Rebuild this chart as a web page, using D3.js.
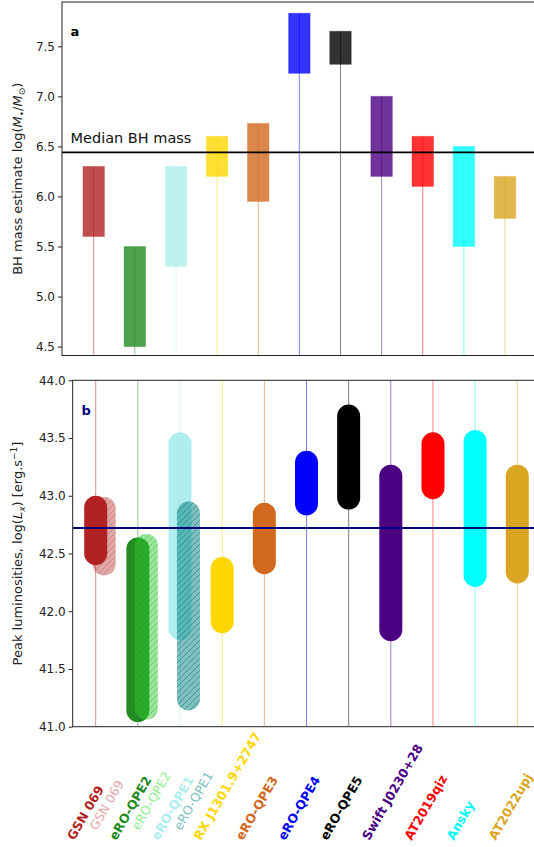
<!DOCTYPE html>
<html>
<head>
<meta charset="utf-8">
<script src="https://cdn.jsdelivr.net/npm/d3@7"></script>
<style>
  html, body { margin: 0; padding: 0; background: #fff; }
  svg { display: block; font-family: "DejaVu Sans", sans-serif; }
</style>
</head>
<body>
<svg id="chart" width="534" height="847"></svg>
<script>
// Sources, in plotting order
const sources = ["GSN 069", "eRO-QPE2", "eRO-QPE1", "RX J1301.9+2747", "eRO-QPE3",
  "eRO-QPE4", "eRO-QPE5", "Swift J0230+28", "AT2019qiz", "Ansky", "AT2022upj"];
const sourceColors = ["firebrick", "forestgreen", "paleturquoise", "gold", "chocolate",
  "blue", "black", "indigo", "red", "cyan", "goldenrod"];

// Panel a: BH mass range, log(M/Msun)
const massLow  = [5.6, 4.5, 5.3, 6.2, 5.95, 7.23, 7.32, 6.2, 6.1, 5.5, 5.78];
const massHigh = [6.3, 5.5, 6.3, 6.6, 6.73, 7.83, 7.65, 7.0, 6.6, 6.5, 6.2];
const medianMass = 6.44;
const massTicks = [4.5, 5.0, 5.5, 6.0, 6.5, 7.0, 7.5];

// Panel b: peak X-ray luminosity range, log(Lx)
const lxLow  = [42.5, 41.14, 41.85, 41.91, 42.42, 42.93, 42.98, 41.84, 43.07, 42.31, 42.34];
const lxHigh = [42.9, 42.54, 43.45, 42.37, 42.84, 43.29, 43.69, 43.17, 43.45, 43.47, 43.17];
const medianLx = 42.72;
const lxTicks = [41.0, 41.5, 42.0, 42.5, 43.0, 43.5, 44.0];

// Second (hatched) estimates for the first three sources
const altSources = ["GSN 069", "eRO-QPE2", "eRO-QPE1"];
const altIndex = [0, 1, 2];
const altLow  = [42.41, 41.16, 41.24];
const altHigh = [42.89, 42.57, 42.85];
const altFill  = ["rgba(178,34,34,0.4)", "rgba(50,205,50,0.5)", "rgba(0,128,128,0.5)"];
const altHatch = ["rgba(178,34,34,0.28)", "rgba(34,139,34,0.3)", "rgba(0,100,100,0.45)"];
const altLabel = ["#e3a6a6", "#90ee90", "#80bfbf"];

const svg = d3.select("#chart");
const defs = svg.append("defs");

// ---------- Panel a ----------
const A = { left: 62, right: 545, top: 2, bottom: 355.5 };
const xa = d3.scaleLinear().domain([0, 10]).range([93.7, 505]);
const ya = d3.scaleLinear().domain([4.5, 7.5]).range([346.6, 46.3]);

const ga = svg.append("g");
ga.append("clipPath").attr("id", "clipA").append("rect")
  .attr("x", A.left).attr("y", A.top).attr("width", A.right - A.left).attr("height", A.bottom - A.top);

const plotA = ga.append("g").attr("clip-path", "url(#clipA)");
sources.forEach((s, i) => {
  plotA.append("line")
    .attr("x1", xa(i)).attr("x2", xa(i))
    .attr("y1", A.bottom).attr("y2", ya(massHigh[i]))
    .attr("stroke", sourceColors[i]).attr("stroke-opacity", 0.5).attr("stroke-width", 1);
  plotA.append("rect")
    .attr("x", xa(i) - 10.75).attr("width", 21.5)
    .attr("y", ya(massHigh[i])).attr("height", ya(massLow[i]) - ya(massHigh[i]))
    .attr("fill", sourceColors[i]).attr("fill-opacity", 0.8)
    .attr("stroke", sourceColors[i]).attr("stroke-opacity", 0.3).attr("stroke-width", 1);
});
plotA.append("line")
  .attr("x1", A.left).attr("x2", A.right)
  .attr("y1", ya(medianMass)).attr("y2", ya(medianMass))
  .attr("stroke", "black").attr("stroke-width", 1.6);
ga.append("text").attr("x", 70.5).attr("y", 143.3)
  .attr("font-size", 14.5).attr("fill", "#111").text("Median BH mass");
ga.append("text").attr("x", 70.5).attr("y", 36)
  .attr("font-size", 13).attr("font-weight", "bold").attr("fill", "#000").text("a");

const axA = ga.append("g").attr("transform", `translate(${A.left},0)`)
  .call(d3.axisLeft(ya).tickValues(massTicks).tickFormat(d3.format(".1f")).tickSize(4).tickPadding(3));
axA.select(".domain").remove();
axA.selectAll("text").attr("font-size", 12).attr("fill", "#222").attr("font-family", "DejaVu Sans");
axA.selectAll("line").attr("stroke", "#222");

ga.append("rect").attr("x", A.left).attr("y", A.top)
  .attr("width", A.right - A.left).attr("height", A.bottom - A.top)
  .attr("fill", "none").attr("stroke", "#222").attr("stroke-width", 1);

const labA = ga.append("text")
  .attr("transform", `translate(22,${(A.top + A.bottom) / 2}) rotate(-90)`)
  .attr("text-anchor", "middle").attr("font-size", 13).attr("fill", "#222");
labA.append("tspan").text("BH mass estimate log(");
labA.append("tspan").attr("font-style", "italic").text("M");
labA.append("tspan").attr("font-size", 9).attr("dy", 3).text("•");
labA.append("tspan").attr("dy", -3).text("/");
labA.append("tspan").attr("font-style", "italic").text("M");
labA.append("tspan").attr("font-size", 9).attr("dy", 3).text("⊙");
labA.append("tspan").attr("dy", -3).text(")");

// ---------- Panel b ----------
const B = { left: 72.7, right: 545, top: 380.3, bottom: 726.7 };
const xb = d3.scaleLinear().domain([0, 10]).range([95.7, 517.3]);
const yb = d3.scaleLinear().domain([41, 44]).range([B.bottom, B.top]);
const altShift = 0.2;
const barWidth = 23;

const gb = svg.append("g");
gb.append("clipPath").attr("id", "clipB").append("rect")
  .attr("x", B.left).attr("y", B.top).attr("width", B.right - B.left).attr("height", B.bottom - B.top);
const plotB = gb.append("g").attr("clip-path", "url(#clipB)");

sources.forEach((s, i) => {
  plotB.append("line")
    .attr("x1", xb(i)).attr("x2", xb(i)).attr("y1", B.top).attr("y2", B.bottom)
    .attr("stroke", sourceColors[i]).attr("stroke-opacity", 0.5).attr("stroke-width", 1);
});

// hatch patterns for the alternative estimates
altSources.forEach((s, k) => {
  const p = defs.append("pattern").attr("id", "hatch" + k)
    .attr("patternUnits", "userSpaceOnUse").attr("width", 6).attr("height", 6);
  p.append("path").attr("d", "M-1,1 l2,-2 M0,6 l6,-6 M5,7 l2,-2")
    .attr("stroke", altHatch[k]).attr("stroke-width", 1);
});

sources.forEach((s, i) => {
  plotB.append("line")
    .attr("x1", xb(i)).attr("x2", xb(i))
    .attr("y1", yb(lxLow[i])).attr("y2", yb(lxHigh[i]))
    .attr("stroke", sourceColors[i]).attr("stroke-width", barWidth).attr("stroke-linecap", "round");
  const k = altIndex.indexOf(i);
  if (k >= 0) {
    const xx = xb(i + altShift);
    plotB.append("line")
      .attr("x1", xx).attr("x2", xx).attr("y1", yb(altLow[k])).attr("y2", yb(altHigh[k]))
      .attr("stroke", altFill[k]).attr("stroke-width", barWidth).attr("stroke-linecap", "round");
    plotB.append("line")
      .attr("x1", xx).attr("x2", xx).attr("y1", yb(altLow[k])).attr("y2", yb(altHigh[k]))
      .attr("stroke", `url(#hatch${k})`).attr("stroke-width", barWidth).attr("stroke-linecap", "round");
  }
});

plotB.append("line")
  .attr("x1", B.left).attr("x2", B.right)
  .attr("y1", yb(medianLx)).attr("y2", yb(medianLx))
  .attr("stroke", "navy").attr("stroke-width", 2);

gb.append("text").attr("x", 81.5).attr("y", 415)
  .attr("font-size", 13).attr("font-weight", "bold").attr("fill", "navy").text("b");

const axB = gb.append("g").attr("transform", `translate(${B.left},0)`)
  .call(d3.axisLeft(yb).tickValues(lxTicks).tickFormat(d3.format(".1f")).tickSize(4).tickPadding(3));
axB.select(".domain").remove();
axB.selectAll("text").attr("font-size", 12).attr("fill", "#222").attr("font-family", "DejaVu Sans");
axB.selectAll("line").attr("stroke", "#222");

gb.append("rect").attr("x", B.left).attr("y", B.top)
  .attr("width", B.right - B.left).attr("height", B.bottom - B.top)
  .attr("fill", "none").attr("stroke", "#222").attr("stroke-width", 1);

const labB = gb.append("text")
  .attr("transform", `translate(22,${(B.top + B.bottom) / 2}) rotate(-90)`)
  .attr("text-anchor", "middle").attr("font-size", 13).attr("fill", "#222");
labB.append("tspan").text("Peak luminosities, log(");
labB.append("tspan").attr("font-style", "italic").text("L");
labB.append("tspan").attr("font-size", 9).attr("dy", 3).attr("font-style", "italic").text("x");
labB.append("tspan").attr("dy", -3).text(") [erg.s");
labB.append("tspan").attr("font-size", 9).attr("dy", -5).text("−1");
labB.append("tspan").attr("dy", 5).text("]");

// Rotated source names under panel b
const names = svg.append("g");
sources.forEach((s, i) => {
  const x0 = xb(i) - 21.5, y0 = 841;
  names.append("text")
    .attr("transform", `translate(${x0},${y0}) rotate(-60)`)
    .attr("font-size", 12.5).attr("font-weight", "bold")
    .attr("fill", sourceColors[i]).text(s);
});
altSources.forEach((s, k) => {
  const i = altIndex[k];
  const x0 = xb(i) + 1, y0 = 831;
  names.append("text")
    .attr("transform", `translate(${x0},${y0}) rotate(-60)`)
    .attr("font-size", 12.5)
    .attr("fill", altLabel[k]).text(s);
});
</script>
</body>
</html>
